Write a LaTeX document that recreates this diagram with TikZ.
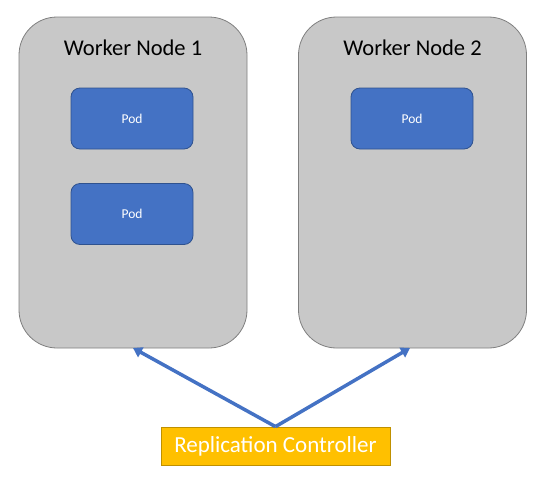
\documentclass[tikz,border=0pt]{standalone}
\usepackage{fontspec}
\setmainfont{Carlito}
\usetikzlibrary{arrows.meta}
\definecolor{nodegray}{HTML}{C8C8C8}
\definecolor{nodeedge}{HTML}{7F7F7F}
\definecolor{podblue}{HTML}{4472C4}
\definecolor{podedge}{HTML}{2F528F}
\definecolor{rcfill}{HTML}{FFC000}
\definecolor{rcedge}{HTML}{BF9000}
\tikzset{
  workerbox/.style={draw=nodeedge, fill=nodegray, line width=0.8pt, rounded corners=38pt,
    minimum width=228pt, minimum height=331pt, inner sep=0pt},
  podbox/.style={draw=podedge, fill=podblue, line width=0.8pt, rounded corners=9pt,
    minimum width=122pt, minimum height=61pt, inner sep=0pt, text=white,
    font=\fontsize{13.5}{15}\selectfont},
  titletext/.style={font=\fontsize{22.5}{26}\selectfont, text=black, inner sep=0pt},
  rcbox/.style={draw=rcedge, fill=rcfill, line width=0.8pt, minimum width=229pt,
    minimum height=38pt, inner sep=0pt, text=white, font=\fontsize{23}{27}\selectfont},
  link/.style={draw=podblue, line width=3.5pt, -{Triangle[length=9pt,width=11pt]}, shorten >=0pt}
}
\begin{document}
\begin{tikzpicture}[x=1pt,y=-1pt]
\useasboundingbox (0,0) rectangle (542,483);
\node[workerbox] (worker1) at (133,182.5) {};
\node[workerbox] (worker2) at (412.5,182.5) {};
\node[titletext] (title1) at (133,48) {Worker Node 1};
\node[titletext] (title2) at (412.5,48) {Worker Node 2};
\node[podbox] (pod1) at (132,118.5) {Pod};
\node[podbox] (pod2) at (132,214) {Pod};
\node[podbox] (pod3) at (412,118.5) {Pod};
\node[rcbox] (rc) at (275.5,446) {Replication Controller};
\coordinate (t1) at (133,348);
\coordinate (t2) at (410,348);
\draw[link] (rc.north) -- (t1);
\draw[link] (rc.north) -- (t2);
\end{tikzpicture}
\end{document}
